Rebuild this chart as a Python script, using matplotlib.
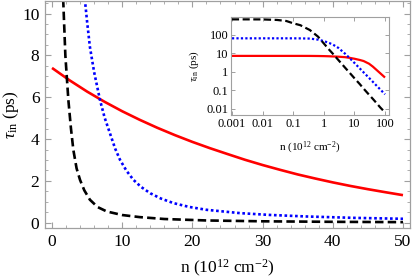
import matplotlib
matplotlib.use("Agg")
import matplotlib.pyplot as plt
from matplotlib.ticker import MultipleLocator, LogLocator, FixedLocator, FixedFormatter, NullFormatter

plt.rcParams['font.family'] = ['Liberation Serif', 'DejaVu Serif']
plt.rcParams['mathtext.fontset'] = 'custom'
plt.rcParams['mathtext.rm'] = 'Liberation Serif'
plt.rcParams['mathtext.it'] = 'Liberation Serif:italic'

# ---- main panel data (n in 1e12 cm^-2, tau in ps) ----
black_n = [1.4, 1.6, 1.9, 2.1, 2.33, 2.7, 3.04, 3.5, 3.99, 4.6, 5.4, 6.5, 7.8, 10, 12.5, 16, 22, 30, 40, 50]
black_t = [13.5, 10.6, 8.0, 7.0, 5.86, 4.5, 3.48, 2.6, 2.05, 1.55, 1.1, 0.75, 0.54, 0.37, 0.27, 0.18, 0.11, 0.07, 0.045, 0.03]

blue_n = [4.4, 4.7, 5.0, 5.4, 6.0, 6.84, 7.5, 8.26, 9.0, 9.7, 10.6, 11.6, 12.7, 14.0, 15.5, 17.3, 19.5, 22, 26.8, 31, 36.3, 43, 50]
blue_t = [12.0, 10.6, 9.6, 8.4, 7.2, 5.86, 5.02, 4.27, 3.54, 3.0, 2.49, 2.05, 1.71, 1.41, 1.16, 0.94, 0.76, 0.62, 0.46, 0.375, 0.30, 0.235, 0.19]

red_n = [0, 2.5, 5, 7.5, 10, 12.5, 15, 17.5, 20, 22.5, 25, 27.5, 30, 32.5, 35, 37.5, 40, 42.5, 45, 47.5, 50]
red_t = [7.40, 6.81, 6.27, 5.78, 5.33, 4.92, 4.54, 4.19, 3.865, 3.565, 3.285, 3.01, 2.76, 2.53, 2.31, 2.115, 1.93, 1.76, 1.605, 1.46, 1.32]

# ---- inset data (log-log) ----
ins_n = [0.001, 0.003, 0.01, 0.03, 0.06, 0.1, 0.17, 0.35, 0.65, 1, 1.5, 2, 3, 5, 7, 10, 15, 20, 30, 40, 50, 70, 100]
ins_black = [700, 700, 695, 650, 570, 430, 340, 186, 81, 35, 16, 9.5, 4.4, 1.68, 0.9, 0.46, 0.22, 0.125, 0.059, 0.035, 0.023, 0.012, 0.0065]
ins_blue = [66, 66, 66, 66, 66, 66, 65.5, 64, 56, 47, 37, 30, 20, 9.6, 5.6, 3.1, 1.55, 0.95, 0.48, 0.294, 0.2, 0.113, 0.062]
ins_red = [7.4, 7.4, 7.4, 7.4, 7.4, 7.4, 7.4, 7.38, 7.3, 7.2, 7.05, 6.9, 6.7, 6.3, 5.8, 5.2, 4.45, 3.9, 2.8, 1.95, 1.4, 0.85, 0.5]

xticks_main = [0, 10, 20, 30, 40, 50]
yticks_main = [0, 2, 4, 6, 8, 10]
ins_xticks = [0.001, 0.01, 0.1, 1, 10, 100]
ins_xlabels = ['0.001', '0.01', '0.1', '1', '10', '100']
ins_yticks = [0.01, 0.1, 1, 10, 100]
ins_ylabels = ['0.01', '0.1', '1', '10', '100']

frame = '#a0a0a0'
RED, BLUE, BLACK = '#ff0000', '#0000ff', '#000000'

fig = plt.figure(figsize=(4.16, 2.80), dpi=100)
ax = fig.add_axes([45/416, 1 - 228/280, 365/416, 227/280])

lw = 1.9
ax.plot(red_n, red_t, color=RED, lw=lw, solid_capstyle='butt')
ax.plot(blue_n, blue_t, color=BLUE, lw=lw, linestyle=(0, (1.0, 1.0)), dash_capstyle='butt')
ax.plot(black_n, black_t, color=BLACK, lw=lw, linestyle=(0, (3.2, 1.6)), dash_capstyle='butt')

ax.set_xlim(-1, 51)
ax.set_ylim(-0.25, 10.6)
ax.set_xticks(xticks_main)
ax.set_yticks(yticks_main)
ax.xaxis.set_minor_locator(MultipleLocator(2))
ax.yaxis.set_minor_locator(MultipleLocator(0.5))
for s in ax.spines.values():
    s.set_color(frame)
    s.set_linewidth(0.9)
ax.tick_params(which='both', direction='in', top=True, right=True, color=frame, labelsize=12.5, pad=4)
ax.tick_params(which='major', length=4, width=0.8)
ax.tick_params(which='minor', length=2, width=0.6)
ax.set_xlabel(r'n (10$^{12}$ cm$^{-2}$)', fontsize=12.5, labelpad=6)
ax.set_ylabel(r'$\tau_{\mathrm{in}}$ (ps)', fontsize=12.5, labelpad=1)

# ---- inset ----
ia = fig.add_axes([231/416, 1 - 115/280, 158/416, 98/280])
ilw = 1.6
ia.plot(ins_n, ins_red, color=RED, lw=ilw, solid_capstyle='butt')
ia.plot(ins_n, ins_blue, color=BLUE, lw=ilw, linestyle=(0, (1.0, 1.0)), dash_capstyle='butt')
ia.plot(ins_n, ins_black, color=BLACK, lw=ilw, linestyle=(0, (3.2, 1.6)), dash_capstyle='butt')
ia.set_xscale('log')
ia.set_yscale('log')
ia.set_xlim(0.00093, 135)
ia.set_ylim(0.0047, 940)
ia.xaxis.set_major_locator(FixedLocator(ins_xticks))
ia.xaxis.set_major_formatter(FixedFormatter(ins_xlabels))
ia.yaxis.set_major_locator(FixedLocator(ins_yticks))
ia.yaxis.set_major_formatter(FixedFormatter(ins_ylabels))
ia.xaxis.set_minor_locator(LogLocator(base=10, subs=range(2, 10)))
ia.yaxis.set_minor_locator(LogLocator(base=10, subs=range(2, 10)))
ia.xaxis.set_minor_formatter(NullFormatter())
ia.yaxis.set_minor_formatter(NullFormatter())
for s in ia.spines.values():
    s.set_color(frame)
    s.set_linewidth(0.8)
ia.tick_params(which='both', direction='in', top=True, right=True, color=frame, labelsize=9, pad=2)
ia.tick_params(which='major', length=3, width=0.7)
ia.tick_params(which='minor', length=1.5, width=0.5)
ia.set_xlabel(r'n (10$^{12}$ cm$^{-2}$)', fontsize=8, labelpad=7)
ia.set_ylabel(r'$\tau_{\mathrm{in}}$ (ps)', fontsize=8, labelpad=4)

fig.savefig('out.png', dpi=100)
